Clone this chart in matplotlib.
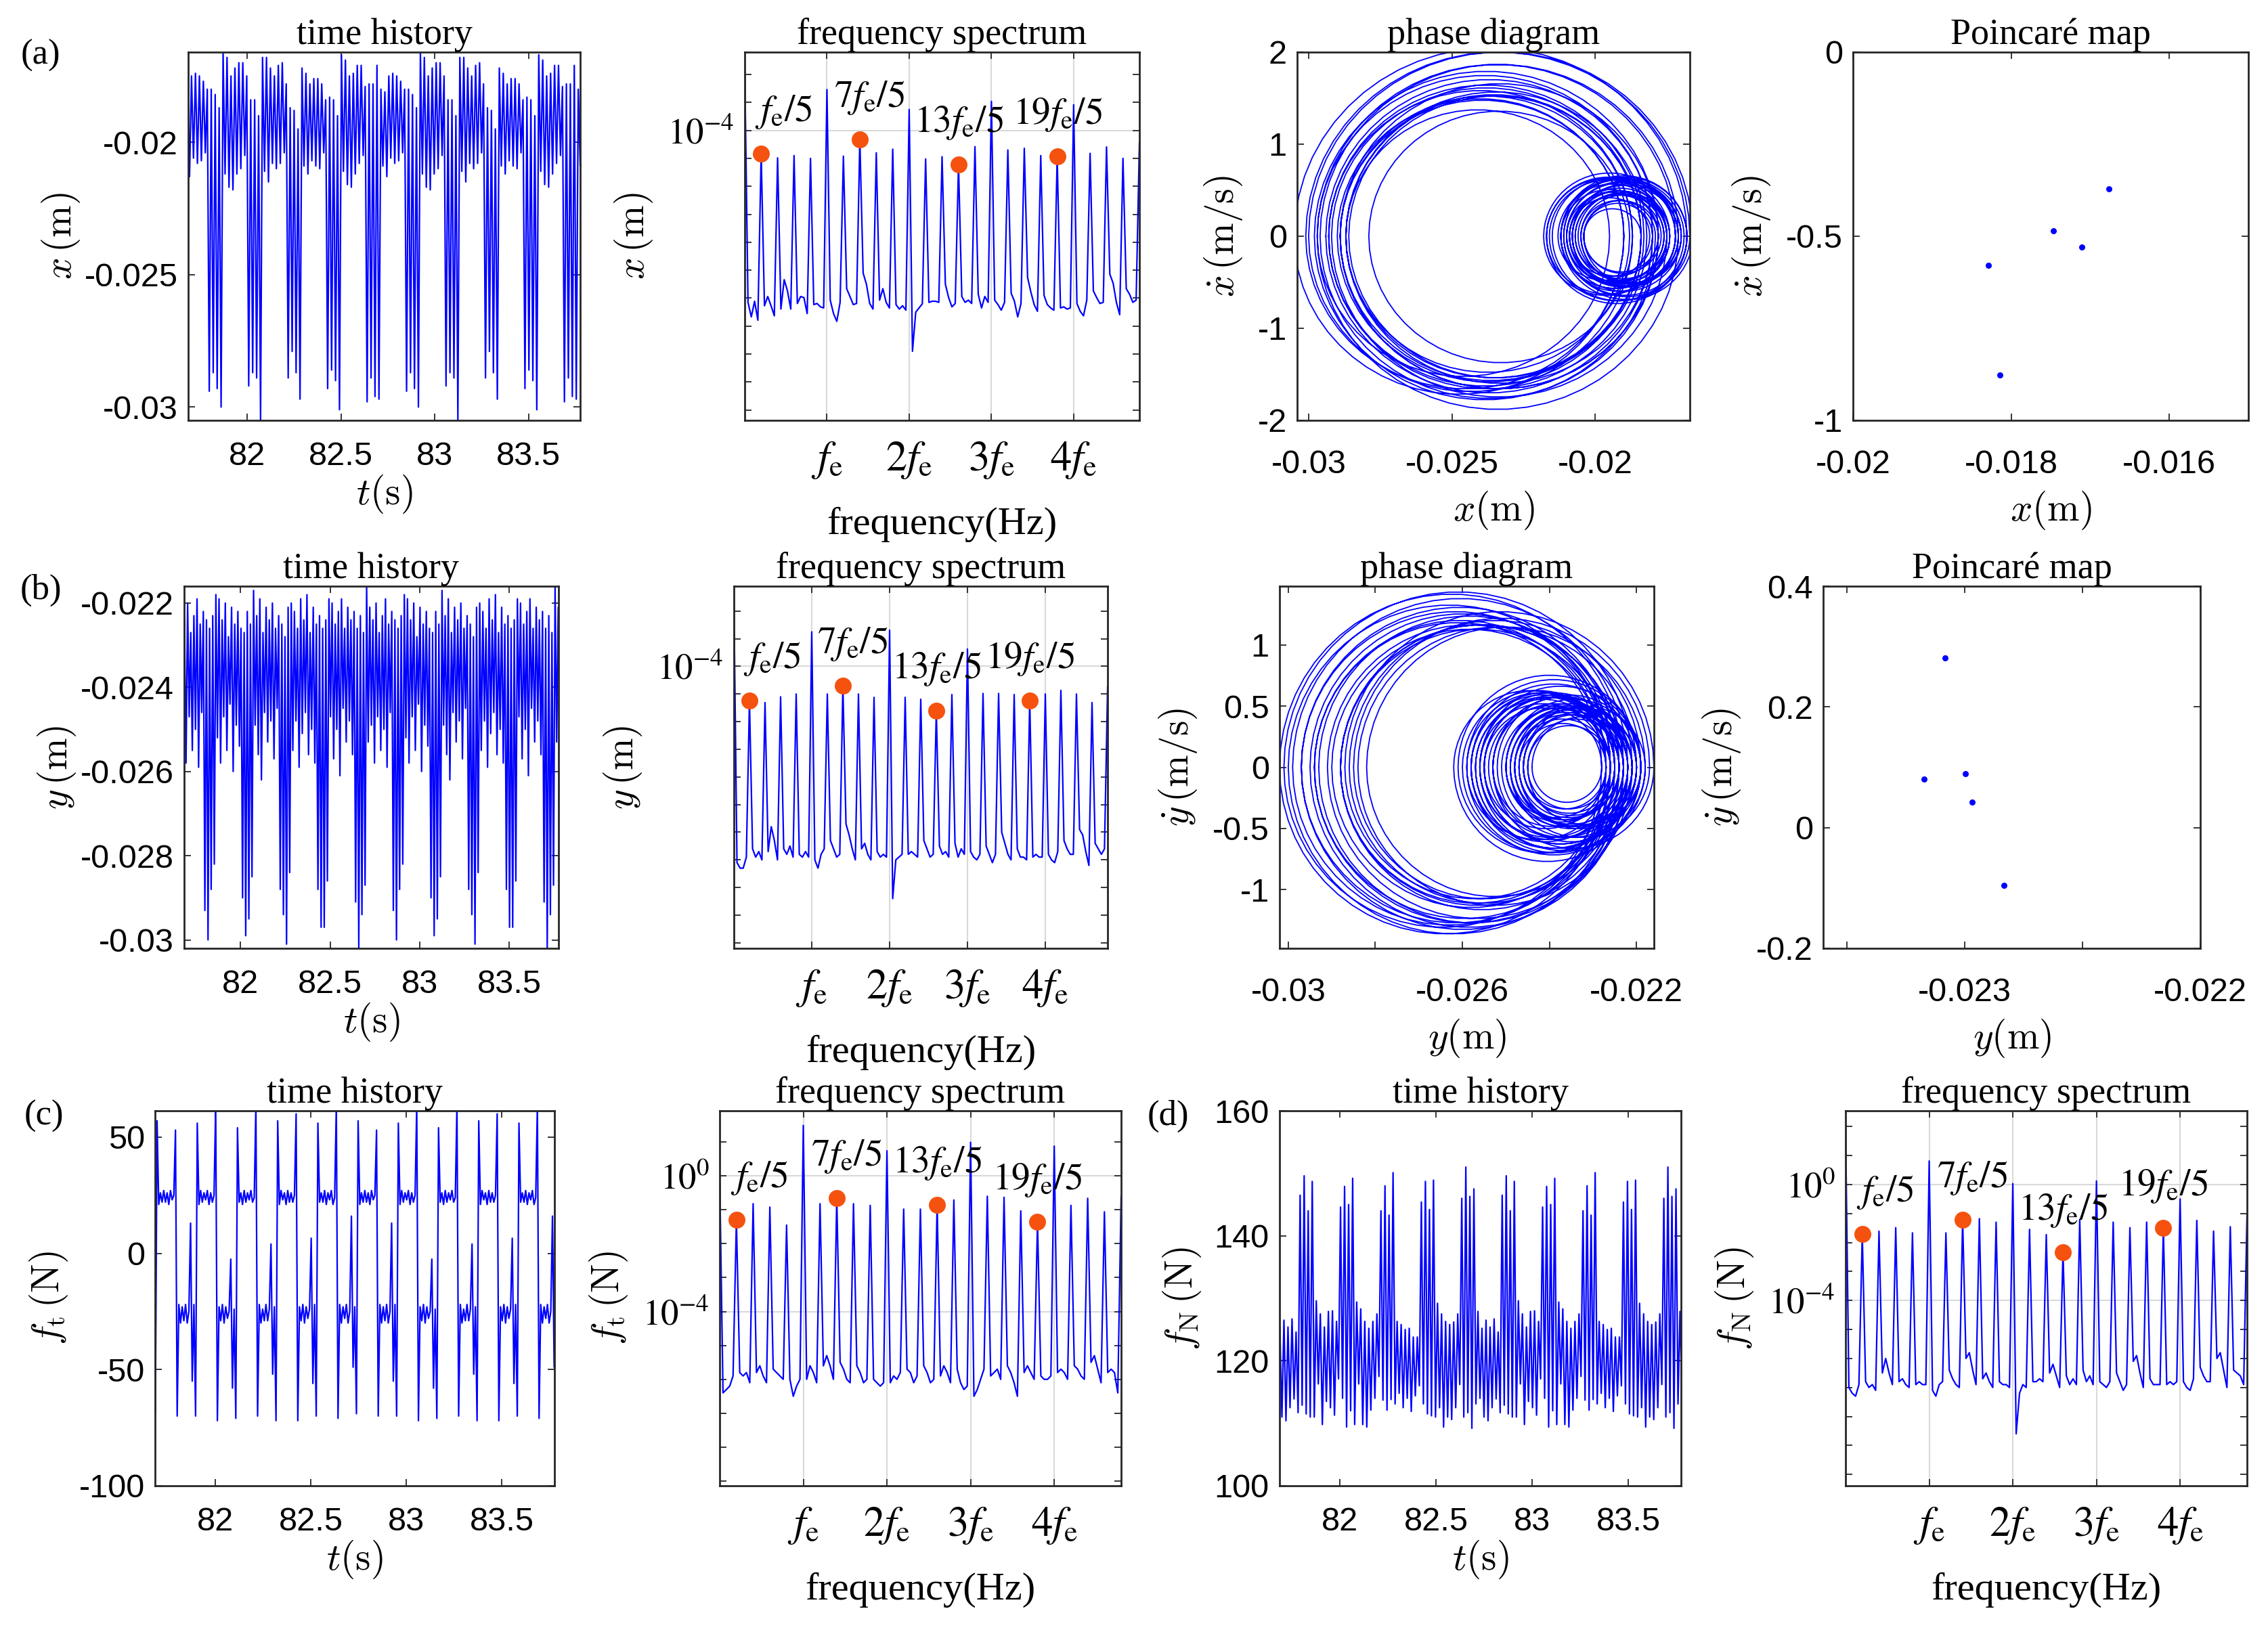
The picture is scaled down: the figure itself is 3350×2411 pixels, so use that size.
import numpy as np
import matplotlib
matplotlib.use("Agg")
import matplotlib.pyplot as plt
from matplotlib.ticker import FixedLocator, NullFormatter

plt.rcParams['font.family'] = ['Liberation Sans', 'DejaVu Sans']
plt.rcParams['mathtext.fontset'] = 'cm'
plt.rcParams['axes.unicode_minus'] = False


# ---------------- data ----------------
# excitation period (one "cluster") and start of the first cluster in the window
T_exc = 0.2104
fe = 1 / T_exc
t0 = 81.792
t_lim = (81.685, 83.775)

# turning points (peak / trough values) for one response period = 5 excitation periods
x_turn = [
    [-0.0294, -0.0180, -0.0287, -0.0182, -0.0293, -0.0187, -0.0300, -0.0166, -0.0212, -0.0168,
     -0.0217, -0.0175, -0.0218, -0.0172, -0.0212, -0.0170, -0.0210, -0.0170, -0.0205, -0.0175],
    [-0.0292, -0.0184, -0.0287, -0.0184, -0.0289, -0.0190, -0.0305, -0.0168, -0.0211, -0.0168,
     -0.0215, -0.0172, -0.0208, -0.0175, -0.0210, -0.0171, -0.0208, -0.0170, -0.0204, -0.0178],
    [-0.0289, -0.0187, -0.0279, -0.0188, -0.0287, -0.0195, -0.0297, -0.0172, -0.0209, -0.0174,
     -0.0212, -0.0178, -0.0207, -0.0176, -0.0209, -0.0176, -0.0210, -0.0178, -0.0204, -0.0184],
    [-0.0293, -0.0183, -0.0286, -0.0184, -0.0290, -0.0190, -0.0301, -0.0167, -0.0211, -0.0169,
     -0.0216, -0.0175, -0.0217, -0.0174, -0.0212, -0.0171, -0.0208, -0.0171, -0.0205, -0.0179],
    [-0.0298, -0.0178, -0.0289, -0.0178, -0.0296, -0.0171, -0.0297, -0.0180, -0.0209, -0.0181,
     -0.0213, -0.0175, -0.0206, -0.0174, -0.0208, -0.0175, -0.0207, -0.0177, -0.0204, -0.0180],
]
y_turn = [
    [-0.0293, -0.0224, -0.0300, -0.0226, -0.0288, -0.0223, -0.0282, -0.0218, -0.0252, -0.0219, -0.0258, -0.0224,
     -0.0247, -0.0220, -0.0255, -0.0228, -0.0244, -0.0221, -0.0260, -0.0225, -0.0249, -0.0222, -0.0254, -0.0226],
    [-0.0290, -0.0227, -0.0299, -0.0222, -0.0295, -0.0225, -0.0285, -0.0217, -0.0249, -0.0223, -0.0256, -0.0219,
     -0.0262, -0.0227, -0.0246, -0.0221, -0.0253, -0.0224, -0.0248, -0.0220, -0.0257, -0.0226, -0.0245, -0.0223],
    [-0.0288, -0.0225, -0.0294, -0.0228, -0.0301, -0.0221, -0.0284, -0.0220, -0.0255, -0.0222, -0.0248, -0.0226,
     -0.0259, -0.0219, -0.0251, -0.0224, -0.0246, -0.0218, -0.0256, -0.0227, -0.0250, -0.0221, -0.0258, -0.0225],
    [-0.0288, -0.0223, -0.0297, -0.0226, -0.0297, -0.0224, -0.0286, -0.0219, -0.0247, -0.0220, -0.0257, -0.0225,
     -0.0250, -0.0222, -0.0261, -0.0219, -0.0245, -0.0226, -0.0253, -0.0221, -0.0248, -0.0224, -0.0256, -0.0222],
    [-0.0291, -0.0226, -0.0302, -0.0223, -0.0294, -0.0227, -0.0287, -0.0216, -0.0253, -0.0221, -0.0249, -0.0224,
     -0.0258, -0.0220, -0.0247, -0.0227, -0.0255, -0.0223, -0.0250, -0.0219, -0.0259, -0.0225, -0.0246, -0.0222],
]
ft_turn = [
    [53, -70, -22, -30, -23, -29, -22, -30, -25, 13, -55, -22, -70, 56, 21, 27, 22, 26, 23, 27, 21, 26, 22, 25],
    [64, -72, -23, -29, -22, -30, -23, -28, -25, -2.5, -58, -24, -71, 54, 22, 26, 21, 27, 22, 26, 23, 27, 22, 24],
    [64, -70, -22, -30, -24, -29, -22, -29, -24, 4, -52, -23, -72, 57, 21, 27, 23, 26, 21, 27, 22, 26, 22, 25],
    [60, -72, -23, -29, -22, -30, -23, -28, -24, 6.5, -56, -22, -70, 56, 22, 26, 22, 27, 21, 26, 23, 27, 21, 24],
    [64, -71, -22, -30, -23, -28, -22, -30, -25, 16, -49, -23, -69, 57, 21, 26, 22, 27, 22, 26, 21, 27, 23, 25],
]
fN_turn = [
    [146.5, 112.9, 149.6, 111.5, 144.0, 111.0, 148.7, 111.0, 129.6, 116.3,
     127.5, 109.8, 125.4, 113.5, 127.9, 112.5, 128.0, 111.3, 126.3, 117.1],
    [144.6, 114.0, 147.9, 109.4, 145.0, 112.0, 149.2, 109.8, 129.4, 116.3,
     128.3, 109.8, 126.3, 109.4, 125.2, 112.1, 126.3, 114.0, 127.5, 117.5],
    [144.0, 113.7, 148.0, 112.1, 143.3, 113.8, 150.1, 113.1, 126.3, 114.8,
     125.8, 112.5, 125.0, 114.0, 125.2, 111.9, 123.8, 114.4, 123.8, 116.0],
    [145.4, 113.1, 148.7, 111.5, 144.2, 111.2, 148.9, 111.0, 129.2, 112.5,
     127.5, 109.4, 126.3, 111.0, 125.8, 110.6, 126.2, 112.5, 127.5, 116.2],
    [146.0, 111.0, 151.0, 111.7, 146.3, 109.2, 147.5, 113.1, 127.9, 114.0,
     125.2, 111.0, 126.5, 110.4, 125.4, 112.5, 126.7, 113.9, 124.6, 111.7],
]

# spectra: log10 of the peaks at k*fe/5 (k = 0..24) and of the 4 bins between peaks
xa_peak = [-1.67, -4.82, -4.98, -4.90, -5.00, -2.54, -4.92, -4.32, -4.80, -4.67, -3.25, -5.02, -4.94,
           -5.22, -4.58, -2.96, -4.70, -4.64, -4.90, -4.93, -3.08, -4.82, -4.59, -5.00, -4.43]
xa_floor = [
    [-10.15, -10.67, -10.11, -10.79], [-10.27, -9.94, -10.27, -10.63], [-10.39, -9.34, -9.74, -10.39],
    [-10.19, -9.94, -9.98, -10.55], [-10.23, -10.19, -10.31, -10.35], [-10.07, -10.55, -10.83, -10.15],
    [-9.66, -9.94, -10.23, -10.19], [-9.10, -9.50, -10.19, -10.39], [-10.07, -9.66, -10.15, -10.35],
    [-10.23, -10.39, -10.27, -10.43], [-11.90, -10.50, -10.35, -10.20], [-10.15, -10.11, -10.11, -10.15],
    [-9.50, -9.98, -10.31, -10.19], [-9.94, -10.15, -10.07, -10.19], [-9.86, -10.35, -9.94, -10.15],
    [-10.07, -10.23, -10.43, -10.15], [-9.82, -10.11, -10.67, -10.19], [-9.26, -9.78, -10.23, -10.47],
    [-9.90, -10.23, -10.35, -10.43], [-10.35, -10.31, -10.39, -10.35], [-10.19, -10.47, -10.63, -10.07],
    [-9.74, -9.98, -10.19, -10.15], [-9.14, -9.46, -10.15, -10.59], [-9.66, -9.86, -10.15, -10.07],
]
yb_peak = [-1.56, -5.23, -5.31, -5.10, -5.00, -2.75, -5.00, -4.71, -5.00, -5.12, -2.69, -5.12, -5.19,
           -5.60, -5.02, -3.37, -4.98, -4.98, -5.02, -5.23, -5.00, -4.87, -5.00, -5.31, -4.75]
yb_floor = [
    [-11.1, -11.3, -11.3, -10.9], [-10.6, -10.9, -10.7, -11.0], [-10.7, -9.8, -10.3, -11.0],
    [-10.6, -10.8, -10.5, -10.9], [-10.8, -10.9, -10.7, -10.9], [-11.0, -11.3, -10.8, -10.6],
    [-10.3, -10.6, -10.9, -10.8], [-9.7, -10.1, -10.6, -11.0], [-10.6, -10.4, -10.8, -11.0],
    [-10.7, -10.9, -10.8, -10.9], [-12.4, -11.0, -10.9, -10.8], [-10.8, -10.7, -10.8, -10.9],
    [-10.3, -10.6, -10.9, -10.8], [-10.5, -10.8, -10.7, -10.9], [-10.4, -10.9, -10.6, -10.8],
    [-10.7, -10.9, -11.0, -10.8], [-10.5, -10.8, -11.1, -10.8], [-10.0, -10.4, -10.8, -11.0],
    [-10.6, -10.9, -10.9, -11.0], [-10.9, -10.8, -10.9, -10.9], [-10.8, -11.0, -11.1, -10.7],
    [-10.3, -10.6, -10.8, -10.8], [-9.9, -10.1, -10.7, -11.2], [-10.4, -10.6, -10.8, -10.6],
]
ftc_peak = [0.08, -1.30, -0.82, -0.92, -1.45, 1.49, -0.82, -0.66, -0.82, -0.87, 0.74, -0.98, -0.98,
            -0.85, -0.71, 0.99, -0.60, -0.63, -1.03, -1.35, 0.88, -0.87, -0.66, -1.06, -0.60]
ftc_floor = [
    [-6.4, -6.3, -6.2, -5.9], [-5.8, -5.9, -5.8, -6.1], [-5.8, -5.6, -5.9, -6.1],
    [-5.7, -5.8, -5.9, -6.0], [-6.0, -6.5, -6.2, -6.0], [-6.0, -5.6, -5.8, -6.1],
    [-5.6, -5.3, -5.6, -6.0], [-5.5, -5.7, -6.0, -6.1], [-5.6, -5.8, -6.1, -6.0],
    [-6.0, -6.1, -6.2, -6.1], [-6.1, -5.9, -6.0, -5.8], [-5.7, -5.8, -6.1, -5.9],
    [-5.6, -5.8, -6.1, -6.0], [-5.9, -5.6, -5.8, -6.1], [-5.7, -6.1, -6.3, -6.2],
    [-6.5, -6.3, -6.0, -5.7], [-5.9, -5.8, -5.7, -6.0], [-5.6, -5.8, -6.1, -6.5],
    [-5.8, -5.6, -5.8, -6.0], [-5.9, -6.0, -6.0, -5.9], [-5.8, -5.7, -5.8, -6.0],
    [-5.6, -5.7, -5.9, -6.0], [-5.5, -5.3, -5.7, -6.1], [-5.8, -5.7, -5.8, -6.4],
]
fNd_peak = [2.04, -1.71, -1.61, -1.49, -1.67, 0.81, -1.67, -1.21, -1.18, -1.30, 0.03, -1.55, -1.73,
            -2.33, -1.21, 0.12, -1.30, -1.49, -1.30, -1.49, -0.50, -1.24, -1.61, -1.46, -1.05]
fNd_floor = [
    [-7.0, -7.2, -7.3, -6.9], [-6.8, -7.0, -6.9, -7.1], [-6.5, -6.0, -6.5, -6.9],
    [-6.8, -6.7, -6.9, -7.0], [-6.9, -6.8, -6.9, -6.9], [-7.1, -7.3, -6.9, -6.8],
    [-6.4, -6.7, -6.9, -7.0], [-6.0, -5.8, -6.4, -6.9], [-6.7, -6.5, -6.8, -7.0],
    [-6.8, -6.9, -6.9, -7.0], [-8.6, -7.2, -6.9, -7.0], [-6.8, -6.8, -6.7, -6.8],
    [-6.5, -6.2, -6.6, -7.0], [-6.6, -6.9, -6.7, -6.9], [-6.4, -6.8, -6.6, -6.9],
    [-6.8, -6.9, -7.0, -6.8], [-6.5, -6.8, -7.1, -6.9], [-6.1, -5.9, -6.5, -7.0],
    [-6.7, -6.9, -6.9, -6.9], [-6.9, -6.8, -6.9, -6.8], [-6.8, -7.0, -7.1, -6.7],
    [-6.3, -6.6, -6.8, -6.8], [-6.0, -5.8, -6.4, -7.0], [-6.4, -6.5, -6.6, -6.9],
]
marked_k = [1, 7, 13, 19]
marked_text = [r'$f_\mathrm{e}/5$', r'$7f_\mathrm{e}/5$', r'$13f_\mathrm{e}/5$', r'$19f_\mathrm{e}/5$']

# Poincare sections
pa_x = [-0.01829, -0.01814, -0.01747, -0.01711, -0.01676]
pa_v = [-0.579, -0.876, -0.485, -0.530, -0.372]
pb_y = [-0.023084, -0.023171, -0.022996, -0.022969, -0.022833]
pb_v = [0.2806, 0.0807, 0.0893, 0.0424, -0.0958]


# ---------------- helpers ----------------
W, H = 3350, 2411
BLUE = '#0000ff'
ORANGE = '#f5520f'
serif = 'Liberation Serif'
TICK = 35
LAB = 41
TITLE = 39

fig = plt.figure(figsize=(W / 100, H / 100), dpi=100)


def make_ax(l, r, t, b):
    return fig.add_axes([l / W, 1 - b / H, (r - l) / W, (b - t) / H])


def style(ax, xpad=21):
    for s in ax.spines.values():
        s.set_linewidth(2.0)
        s.set_color('0.15')
    ax.tick_params(which='both', direction='in', top=True, right=True,
                   length=7, width=1.3, color='0.15', labelsize=TICK)
    ax.tick_params(axis='x', pad=xpad)
    ax.tick_params(axis='y', pad=11)


def series(turns, offset):
    vals = np.tile(np.ravel(turns), 3)
    h = 5 * T_exc / np.size(turns)
    t = t0 - 5 * T_exc + (offset + np.arange(len(vals))) * h
    return t, vals, h


def phase(vals, h):
    # each half cycle between two turning points drawn as a harmonic arc
    s = np.linspace(0, np.pi, 30)
    xs, vs = [], []
    for a, b in zip(vals[:-1], vals[1:]):
        r = (a - b) / 2
        xs.append((a + b) / 2 + r * np.cos(s))
        vs.append(-r * np.pi / h * np.sin(s))
    return np.concatenate(xs), np.concatenate(vs)


def time_panel(ax, turns, offset, ylim, yticks, ylabels, ylab, ypad):
    style(ax, 22)
    t, v, h = series(turns, offset)
    ax.plot(t, v, color=BLUE, lw=1.6)
    ax.set_xlim(*t_lim)
    ax.set_ylim(*ylim)
    ax.set_xticks([82, 82.5, 83, 83.5])
    ax.set_xticklabels(['82', '82.5', '83', '83.5'])
    ax.set_yticks(yticks)
    ax.set_yticklabels(ylabels)
    ax.set_xlabel(r'$t(\mathrm{s})$', fontsize=LAB, labelpad=2)
    ax.set_ylabel(ylab, fontsize=LAB, labelpad=ypad)
    ax.set_title('time history', fontsize=TITLE, fontfamily=serif, pad=8)


def spec_panel(ax, peaks, floors, elim, labeled, ylab):
    style(ax, 20)
    e = np.zeros(121)
    e[::5] = peaks
    mask = np.ones(121, bool)
    mask[::5] = False
    e[mask] = np.ravel(floors)
    f = np.arange(121) * fe / 25
    ax.semilogy(f, 10.0 ** e, color=BLUE, lw=1.6)
    for k, txt, dx in zip(marked_k, marked_text, [-9, -38, -66, -66]):
        ax.plot(k * fe / 5, 10.0 ** peaks[k], 'o', color=ORANGE, ms=18, mec='none', zorder=5)
        ax.annotate(txt, xy=(k * fe / 5, 10.0 ** peaks[k]), xytext=(dx, 48),
                    textcoords='offset pixels', fontsize=40, math_fontfamily='stix',
                    ha='left', va='baseline')
    ax.set_xlim(0, 24 * fe / 5)
    ax.set_ylim(10.0 ** elim[0], 10.0 ** elim[1])
    ax.set_xticks([fe, 2 * fe, 3 * fe, 4 * fe])
    ax.set_xticklabels([r'$f_\mathrm{e}$', r'$2f_\mathrm{e}$', r'$3f_\mathrm{e}$', r'$4f_\mathrm{e}$'],
                       math_fontfamily='stix', fontsize=45)
    ax.set_yticks([10.0 ** p for p in labeled])
    ax.set_yticklabels([r'$10^{%d}$' % p for p in labeled], math_fontfamily='stix', fontsize=38)
    dec = np.arange(np.ceil(elim[0]), np.floor(elim[1]) + 1)
    ax.yaxis.set_minor_locator(FixedLocator(10.0 ** dec))
    ax.yaxis.set_minor_formatter(NullFormatter())
    ax.xaxis.set_minor_locator(FixedLocator([]))
    ax.grid(True, which='major', color='#d9d9d9', lw=1.5)
    ax.set_axisbelow(True)
    ax.set_xlabel('frequency(Hz)', fontsize=42, fontfamily=serif, labelpad=28)
    ax.set_ylabel(ylab, fontsize=LAB, labelpad=14)
    ax.set_title('frequency spectrum', fontsize=TITLE, fontfamily=serif, pad=8)


def phase_panel(ax, turns, offset, xlim, ylim, xticks, xlabels, yticks, ylabels, xlab, ylab):
    style(ax, 31)
    t, v, h = series(turns, offset)
    n = np.size(turns)
    px, pv = phase(v[n:2 * n + 1], h)
    ax.plot(px, pv, color=BLUE, lw=1.3)
    ax.set_xlim(*xlim)
    ax.set_ylim(*ylim)
    ax.set_xticks(xticks)
    ax.set_xticklabels(xlabels)
    ax.set_yticks(yticks)
    ax.set_yticklabels(ylabels)
    ax.set_xlabel(xlab, fontsize=LAB, labelpad=10)
    ax.set_ylabel(ylab, fontsize=LAB, labelpad=14)
    ax.set_title('phase diagram', fontsize=TITLE, fontfamily=serif, pad=8)


def poincare_panel(ax, px, pv, xlim, ylim, yticks, ylabels, xlab, ylab):
    style(ax, 31)
    ax.plot(px, pv, 'o', color=BLUE, ms=6.5, mec='none')
    ax.set_xlim(*xlim)
    ax.set_ylim(*ylim)
    ax.set_yticks(yticks)
    ax.set_yticklabels(ylabels)
    ax.set_xlabel(xlab, fontsize=LAB, labelpad=10)
    ax.set_ylabel(ylab, fontsize=LAB, labelpad=14)
    ax.set_title('Poincaré map', fontsize=TITLE, fontfamily=serif, pad=8)


# ---------------- row (a) ----------------
ax = make_ax(278, 857, 77, 621)
time_panel(ax, x_turn, 0.5, (-0.0305, -0.0166), [-0.03, -0.025, -0.02],
           ['-0.03', '-0.025', '-0.02'], r'$x\,(\mathrm{m})$', 3)

ax = make_ax(1100, 1683, 77, 621)
spec_panel(ax, xa_peak, xa_floor, (-14.37, -1.2), [-4], r'$x\,(\mathrm{m})$')

ax = make_ax(1916, 2496, 77, 621)
phase_panel(ax, x_turn, 0.5, (-0.0304, -0.0167), (-2, 2), [-0.03, -0.025, -0.02],
            ['-0.03', '-0.025', '-0.02'], [-2, -1, 0, 1, 2], ['-2', '-1', '0', '1', '2'],
            r'$x(\mathrm{m})$', r'$\dot{x}\,(\mathrm{m/s})$')

ax = make_ax(2737, 3321, 77, 621)
poincare_panel(ax, pa_x, pa_v, (-0.02, -0.015), (-1, 0), [-1, -0.5, 0], ['-1', '-0.5', '0'],
               r'$x(\mathrm{m})$', r'$\dot{x}\,(\mathrm{m/s})$')
ax.set_xticks([-0.02, -0.018, -0.016])
ax.set_xticklabels(['-0.02', '-0.018', '-0.016'])

# ---------------- row (b) ----------------
ax = make_ax(272, 825, 866, 1401)
time_panel(ax, y_turn, 1.0, (-0.0302, -0.0216), [-0.03, -0.028, -0.026, -0.024, -0.022],
           ['-0.03', '-0.028', '-0.026', '-0.024', '-0.022'], r'$y\,(\mathrm{m})$', 3)

ax = make_ax(1084, 1636, 866, 1401)
spec_panel(ax, yb_peak, yb_floor, (-14.2, -1.1), [-4], r'$y\,(\mathrm{m})$')

ax = make_ax(1890, 2443, 866, 1401)
phase_panel(ax, y_turn, 1.0, (-0.0302, -0.0216), (-1.48, 1.48),
            [-0.03, -0.028, -0.026, -0.024, -0.022], ['-0.03', '', '-0.026', '', '-0.022'],
            [-1, -0.5, 0, 0.5, 1], ['-1', '-0.5', '0', '0.5', '1'],
            r'$y(\mathrm{m})$', r'$\dot{y}\,(\mathrm{m/s})$')

ax = make_ax(2693, 3250, 866, 1401)
poincare_panel(ax, pb_y, pb_v, (-0.0236, -0.022), (-0.2, 0.4), [-0.2, 0, 0.2, 0.4],
               ['-0.2', '0', '0.2', '0.4'], r'$y(\mathrm{m})$', r'$\dot{y}\,(\mathrm{m/s})$')
ax.set_xticks([-0.0235, -0.023, -0.0225, -0.022])
ax.set_xticklabels(['', '-0.023', '', '-0.022'])

# ---------------- row (c) and (d) ----------------
ax = make_ax(229, 819, 1641, 2195)
time_panel(ax, ft_turn, 0.0, (-100, 61.3), [-100, -50, 0, 50], ['-100', '-50', '0', '50'],
           r'$f_\mathrm{t}\,(\mathrm{N})$', 10)

ax = make_ax(1063, 1656, 1641, 2195)
spec_panel(ax, ftc_peak, ftc_floor, (-9.14, 1.92), [0, -4], r'$f_\mathrm{t}\,(\mathrm{N})$')

ax = make_ax(1890, 2483, 1641, 2195)
time_panel(ax, fN_turn, 0.0, (100, 160), [100, 120, 140, 160], ['100', '120', '140', '160'],
           r'$f_\mathrm{N}\,(\mathrm{N})$', 12)

ax = make_ax(2726, 3319, 1641, 2195)
spec_panel(ax, fNd_peak, fNd_floor, (-10.39, 2.54), [0, -4], r'$f_\mathrm{N}\,(\mathrm{N})$')

for lab, x, y in [('(a)', 60, 82), ('(b)', 60, 872), ('(c)', 65, 1649), ('(d)', 1725, 1649)]:
    fig.text(x / W, 1 - y / H, lab, fontsize=38, fontfamily=serif, ha='center', va='center')

fig.savefig('out.png', dpi=100)
